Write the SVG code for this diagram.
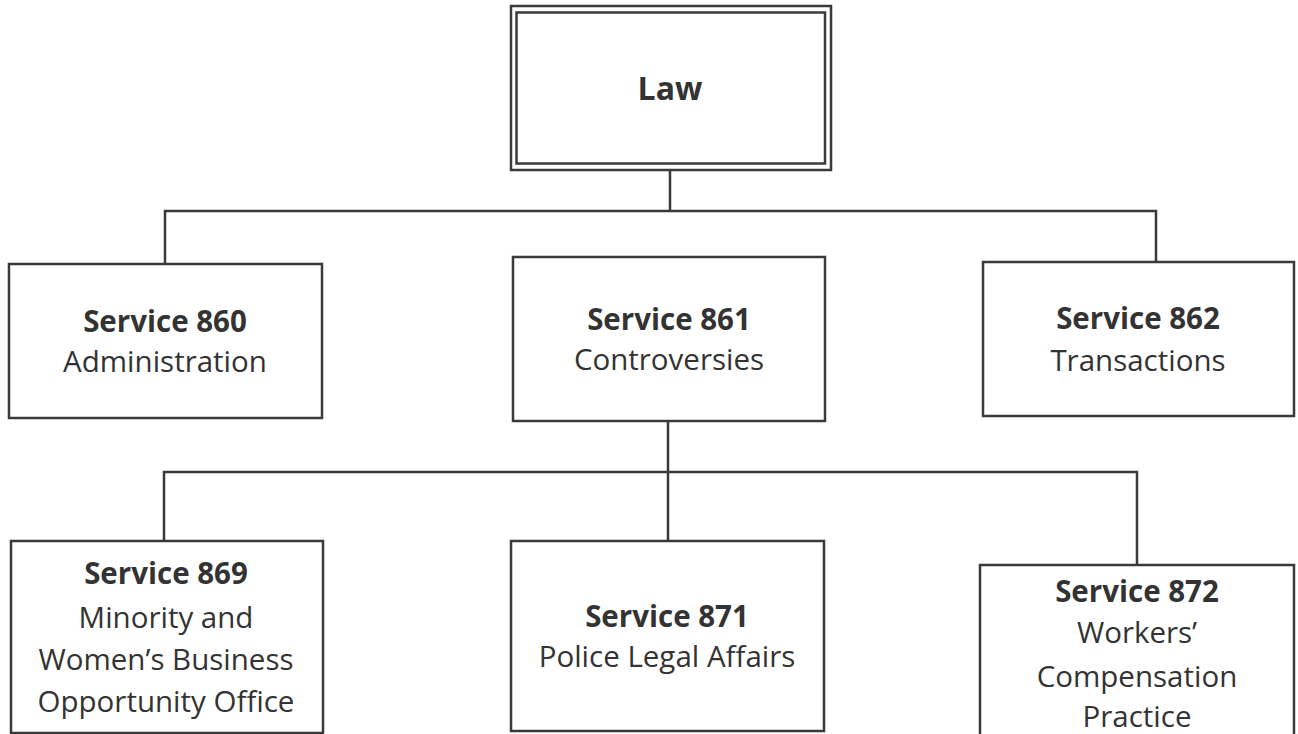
<svg xmlns="http://www.w3.org/2000/svg" width="1298" height="734" viewBox="0 0 1298 734">
<style>
.box{fill:#ffffff;stroke:#3a3a3a;stroke-width:2.5}
.ln{fill:none;stroke:#3a3a3a;stroke-width:2.5}
text{font-family:"Open Sans","Liberation Sans",sans-serif;fill:#333333;text-anchor:middle;font-size:29.5px}
.b{font-weight:bold;font-size:29.5px}
</style>
<rect width="1298" height="734" fill="#ffffff"/>
<g id="connectors">
<path class="ln" d="M670,170 V211 M165,263 V211 H1156 V262"/>
<path class="ln" d="M668,421 V472 M164,541 V472 H1137 V565 M668,472 V541"/>
</g>
<g id="law">
<rect class="box" x="511" y="6" width="320" height="164"/>
<rect class="box" x="516.5" y="12.5" width="308.5" height="151"/>
<text class="b" x="670" y="100" style="font-size:32px">Law</text>
</g>
<g id="s860">
<rect class="box" x="9" y="264" width="313" height="154"/>
<text class="b" x="165" y="332">Service 860</text>
<text x="165" y="372">Administration</text>
</g>
<g id="s861">
<rect class="box" x="513" y="257" width="312" height="164"/>
<text class="b" x="669" y="330">Service 861</text>
<text x="669" y="370">Controversies</text>
</g>
<g id="s862">
<rect class="box" x="983" y="262" width="311" height="154"/>
<text class="b" x="1138" y="329">Service 862</text>
<text x="1138" y="371">Transactions</text>
</g>
<g id="s869">
<rect class="box" x="11" y="541" width="312" height="192"/>
<text class="b" x="166" y="584">Service 869</text>
<text x="166" y="628">Minority and</text>
<text x="166" y="670">Women’s Business</text>
<text x="166" y="712">Opportunity Office</text>
</g>
<g id="s871">
<rect class="box" x="511" y="541" width="313" height="190"/>
<text class="b" x="667" y="627">Service 871</text>
<text x="667" y="667">Police Legal Affairs</text>
</g>
<g id="s872">
<rect class="box" x="980" y="565" width="314" height="175"/>
<text class="b" x="1137" y="602">Service 872</text>
<text x="1137" y="643">Workers’</text>
<text x="1137" y="687">Compensation</text>
<text x="1137" y="727">Practice</text>
</g>
</svg>
